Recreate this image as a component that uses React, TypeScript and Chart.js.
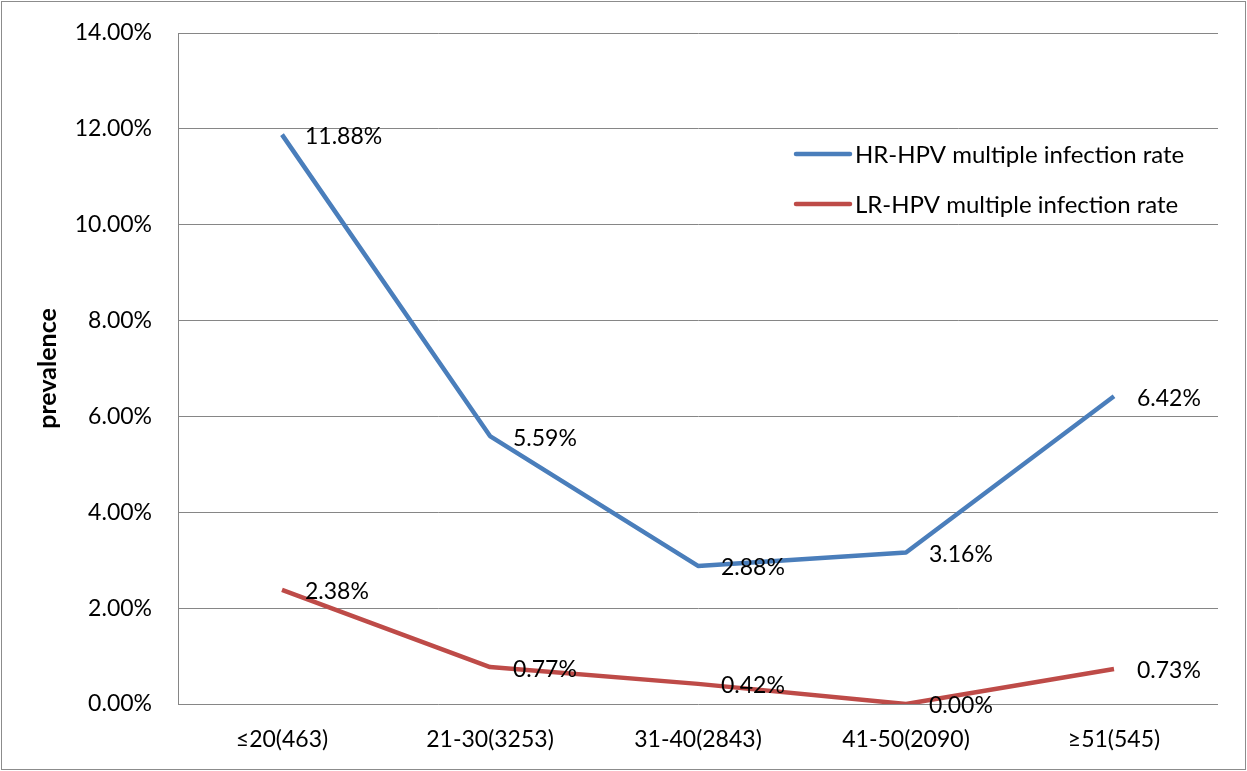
import React, { useEffect, useRef } from "react";
import { Chart, registerables } from "chart.js";

Chart.register(...registerables);

const categories = ["≤20(463)", "21-30(3253)", "31-40(2843)", "41-50(2090)", "≥51(545)"];
const hrValues = [11.88, 5.59, 2.88, 3.16, 6.42];
const lrValues = [2.38, 0.77, 0.42, 0.0, 0.73];
const seriesNames = ["HR-HPV multiple infection rate", "LR-HPV multiple infection rate"];
const yTickMin = 0;
const yTickMax = 14;
const yTickStep = 2;

const FONT = "Lato";
const FS = 23;
const W = 1247;
const H = 771;

const framePlugin = {
  id: "frame",
  beforeDraw(chart: any) {
    const ctx = chart.ctx;
    ctx.save();
    ctx.fillStyle = "#ffffff";
    ctx.fillRect(0, 0, chart.width, chart.height);
    ctx.strokeStyle = "#8c8c8c";
    ctx.lineWidth = 1;
    ctx.strokeRect(1.5, 1.5, chart.width - 3, chart.height - 3);
    ctx.restore();
  },
};

const labelPlugin = {
  id: "pointLabels",
  afterDatasetsDraw(chart: any) {
    const ctx = chart.ctx;
    ctx.save();
    ctx.font = `${FS}px ${FONT}`;
    ctx.fillStyle = "#000000";
    ctx.textAlign = "left";
    ctx.textBaseline = "middle";
    chart.data.datasets.forEach((ds: any, di: number) => {
      const meta = chart.getDatasetMeta(di);
      meta.data.forEach((pt: any, i: number) => {
        const v = ds.data[i] as number;
        ctx.fillText(v.toFixed(2) + "%", pt.x + 23, pt.y + 2);
      });
    });
    ctx.restore();
  },
};

const legendPlugin = {
  id: "insideLegend",
  afterDraw(chart: any) {
    const ctx = chart.ctx;
    const area = chart.chartArea;
    ctx.save();
    ctx.font = `24px ${FONT}`;
    ctx.textAlign = "left";
    ctx.textBaseline = "middle";
    chart.data.datasets.forEach((ds: any, i: number) => {
      const y = area.top + 121 + i * 50;
      const x0 = area.right - 422;
      ctx.strokeStyle = ds.borderColor;
      ctx.lineWidth = 4.5;
      ctx.lineCap = "round";
      ctx.beginPath();
      ctx.moveTo(x0, y);
      ctx.lineTo(x0 + 54, y);
      ctx.stroke();
      ctx.fillStyle = "#000000";
      ctx.fillText(ds.label, x0 + 59, y + 1);
    });
    ctx.restore();
  },
};

export default function App() {
  const ref = useRef<HTMLCanvasElement | null>(null);
  useEffect(() => {
    if (!ref.current) return;
    const chart = new Chart(ref.current, {
      type: "line",
      data: {
        labels: categories,
        datasets: [
          {
            label: seriesNames[0],
            data: hrValues,
            borderColor: "#4A7EBB",
            backgroundColor: "#4A7EBB",
            borderWidth: 4.5,
            pointRadius: 0,
            tension: 0,
            borderJoinStyle: "round",
          },
          {
            label: seriesNames[1],
            data: lrValues,
            borderColor: "#BE4B48",
            backgroundColor: "#BE4B48",
            borderWidth: 4.5,
            pointRadius: 0,
            tension: 0,
            borderJoinStyle: "round",
          },
        ],
      },
      options: {
        responsive: false,
        animation: false,
        devicePixelRatio: 1,
        layout: { padding: { left: 0, right: 29, top: 33, bottom: 0 } },
        plugins: {
          legend: { display: false },
          tooltip: { enabled: false },
        },
        scales: {
          x: {
            offset: true,
            grid: { display: false, drawTicks: false },
            border: { display: false },
            ticks: {
              color: "#000000",
              font: { family: FONT, size: FS },
              padding: 22,
              maxRotation: 0,
              autoSkip: false,
            },
            afterFit(scale: any) {
              scale.height = 67;
            },
          },
          y: {
            min: yTickMin,
            max: yTickMax,
            ticks: {
              stepSize: yTickStep,
              color: "#000000",
              font: { family: FONT, size: FS },
              padding: 8,
              callback: (v: any) => Number(v).toFixed(2) + "%",
            },
            grid: {
              color: "#868686",
              lineWidth: 1,
              drawTicks: true,
              tickLength: 18,
              tickColor: "rgba(0,0,0,0)",
            },
            border: { display: true, color: "#868686", width: 1 },
            title: {
              display: true,
              text: "prevalence",
              color: "#000000",
              font: { family: FONT, size: 25, weight: "bold" },
              padding: { top: 33, bottom: 0 },
            },
            afterFit(scale: any) {
              scale.width = 178;
            },
          },
        },
      },
      plugins: [framePlugin, labelPlugin, legendPlugin],
    });
    return () => chart.destroy();
  }, []);

  return (
    <div style={{ position: "fixed", left: 0, top: 0, width: W, height: H, background: "#fff" }}>
      <canvas ref={ref} width={W} height={H} style={{ width: W, height: H, display: "block" }} />
    </div>
  );
}
